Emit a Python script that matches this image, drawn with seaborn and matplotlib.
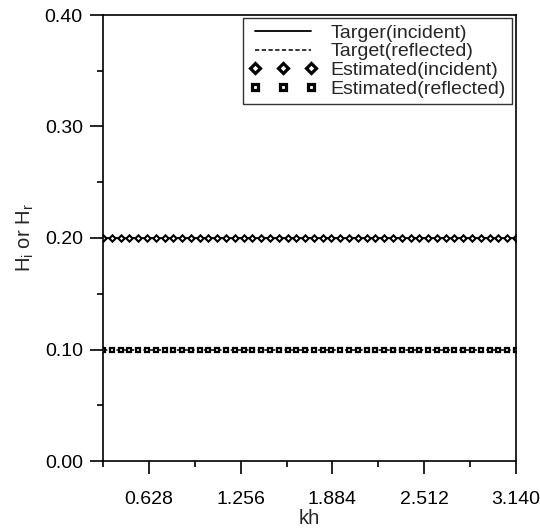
import numpy as np
import matplotlib
matplotlib.use("Agg")
import matplotlib.pyplot as plt
from matplotlib.ticker import MultipleLocator, FixedLocator, FormatStrFormatter
import seaborn as sns

# -- Data ----------------------------------------------------------------------
kh = np.round(np.linspace(0.314, 3.140, 48), 4)
target_incident = np.full(kh.size, 0.20)
target_reflected = np.full(kh.size, 0.10)
estimated_incident = np.full(kh.size, 0.20)
estimated_reflected = np.full(kh.size, 0.10)

x_major = [0.628, 1.256, 1.884, 2.512, 3.140]
x_minor = [0.314, 0.942, 1.570, 2.198, 2.826]
x_labels = ["0.628", "1.256", "1.884", "2.512", "3.140"]

# -- Style ---------------------------------------------------------------------
sns.set_style("ticks")
plt.rcParams["font.family"] = ["Liberation Sans", "DejaVu Sans"]
plt.rcParams["mathtext.fontset"] = "custom"
plt.rcParams["mathtext.rm"] = "Liberation Sans"
plt.rcParams["mathtext.default"] = "regular"

fig = plt.figure(figsize=(5.40, 5.31), dpi=100)
ax = fig.add_axes([103 / 540, 1 - 461 / 531, 413 / 540, 446 / 531])

sns.lineplot(x=kh, y=target_incident, ax=ax, color="black", lw=1.3,
             label="Targer(incident)")
sns.lineplot(x=kh, y=target_reflected, ax=ax, color="black", lw=1.1,
             linestyle=(0, (2.8, 1.6)), label="Target(reflected)")
sns.lineplot(x=kh, y=estimated_incident, ax=ax, color="black", linestyle="none",
             marker="D", markersize=3.2, markerfacecolor="white",
             markeredgecolor="black", markeredgewidth=1.5,
             label="Estimated(incident)")
sns.lineplot(x=kh, y=estimated_reflected, ax=ax, color="black", linestyle="none",
             marker="s", markersize=3.4, markerfacecolor="white",
             markeredgecolor="black", markeredgewidth=1.6,
             label="Estimated(reflected)")

ax.set_xlim(0.314, 3.140)
ax.set_ylim(0.0, 0.40)
ax.xaxis.set_major_locator(FixedLocator(x_major))
ax.xaxis.set_minor_locator(FixedLocator(x_minor))
ax.set_xticklabels(x_labels)
ax.yaxis.set_major_locator(MultipleLocator(0.10))
ax.yaxis.set_minor_locator(MultipleLocator(0.05))
ax.yaxis.set_major_formatter(FormatStrFormatter("%.2f"))

for side in ["top", "right", "left", "bottom"]:
    ax.spines[side].set_visible(True)
    ax.spines[side].set_linewidth(1.2)
    ax.spines[side].set_color("black")

ax.tick_params(which="major", direction="out", length=9.5, width=1.2,
               labelsize=14, colors="black", pad=5)
ax.tick_params(which="minor", direction="out", length=4.5, width=1.2,
               colors="black")
ax.tick_params(axis="x", which="major", pad=12)

ax.set_xlabel("kh", fontsize=14.5, labelpad=1)
ax.set_ylabel("H$_i$ or H$_r$", fontsize=14.5, labelpad=6)

leg = ax.legend(loc="upper right", bbox_to_anchor=(0.990, 0.993),
                borderaxespad=0, numpoints=3, handlelength=3.5,
                handletextpad=0.7, labelspacing=0.06, fontsize=14,
                frameon=True, fancybox=False, edgecolor="black",
                borderpad=0.3)
leg.get_frame().set_linewidth(1.0)
for h in leg.legend_handles[2:]:
    h.set_markersize(5)
    h.set_markeredgewidth(2.3)

fig.savefig("out.png", dpi=100)
